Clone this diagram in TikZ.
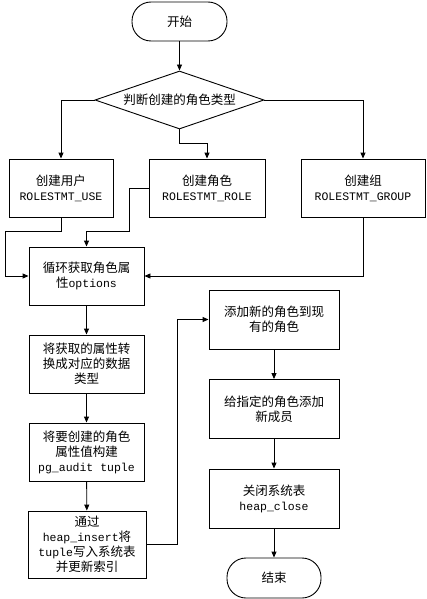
\documentclass[tikz,border=0pt]{standalone}
\usepackage{fontspec}
\setmainfont{Noto Sans CJK SC}
\setmonofont{Liberation Mono}
\usetikzlibrary{shapes.geometric,arrows.meta}
\newcommand\tcode[1]{{\fontsize{11.5}{15}\selectfont\ttfamily #1}}

\begin{document}
\begin{tikzpicture}[x=1pt,y=-1pt,
    font=\fontsize{12.5}{15}\selectfont,
    line width=0.9pt,
    >={Triangle[length=6pt,width=5pt]},
    terminal/.style={draw,rounded corners=19pt,minimum width=95pt,minimum height=39pt},
    process/.style={draw,align=center,minimum width=115pt,minimum height=58pt,inner sep=2pt},
    decision/.style={draw,diamond,aspect=2.9,minimum width=169pt,minimum height=58pt,inner sep=0pt}]
    \useasboundingbox (0,0) rectangle (426,599);

    \node[terminal] (start) at (179.5,21.5) {开始};
    \node[decision] (dec) at (179.5,100) {判断创建的角色类型};
    \node[process,minimum width=104pt] (user) at (61,188) {创建用户\\\tcode{ROLESTMT\_USE}};
    \node[process,minimum width=116pt] (role) at (207,188) {创建角色\\\tcode{ROLESTMT\_ROLE}};
    \node[process,minimum width=124pt] (group) at (363,188) {创建组\\\tcode{ROLESTMT\_GROUP}};
    \node[process] (loop) at (86.5,276) {循环获取角色属\\性\tcode{options}};
    \node[process] (conv) at (86.5,364) {将获取的属性转\\换成对应的数据\\类型};
    \node[process] (tup) at (86.5,452) {将要创建的角色\\属性值构建\\\tcode{pg\_audit tuple}};
    \node[process,minimum width=118pt,minimum height=67pt] (ins) at (87,544.5)
      {通过\\\tcode{heap\_insert}将\\\tcode{tuple}写入系统表\\并更新索引};
    \node[process,minimum width=130pt,minimum height=59pt] (add) at (274,319.5) {添加新的角色到现\\有的角色};
    \node[process,minimum width=130pt,minimum height=59pt] (mem) at (274,409) {给指定的角色添加\\新成员};
    \node[process,minimum width=130pt,minimum height=59pt] (close) at (274,498.5) {关闭系统表\\\tcode{heap\_close}};
    \node[terminal,minimum width=94pt,minimum height=40pt] (end) at (274,578) {结束};

    \coordinate (uturn) at (5,231);
    \coordinate (rturn) at (129,231);
    \coordinate (jmp) at (177,319.5);

    \draw[->] (start) -- (dec);
    \draw[->] (dec.west) -| (user.north);
    \draw[->] (dec.south) -- ++(0,14) -| (role.north);
    \draw[->] (dec.east) -| (group.north);
    \draw[->] (user.south) |- (uturn) |- (loop.west);
    \draw[->] (role.west) -| (rturn) -| (loop.north);
    \draw[->] (group.south) |- (loop.east);
    \draw[->] (loop) -- (conv);
    \draw[->] (conv) -- (tup);
    \draw[->] (tup) -- (ins);
    \draw[->] (ins.east) -| (jmp) -- (add.west);
    \draw[->] (add) -- (mem);
    \draw[->] (mem) -- (close);
    \draw[->] (close) -- (end);
\end{tikzpicture}
\end{document}
